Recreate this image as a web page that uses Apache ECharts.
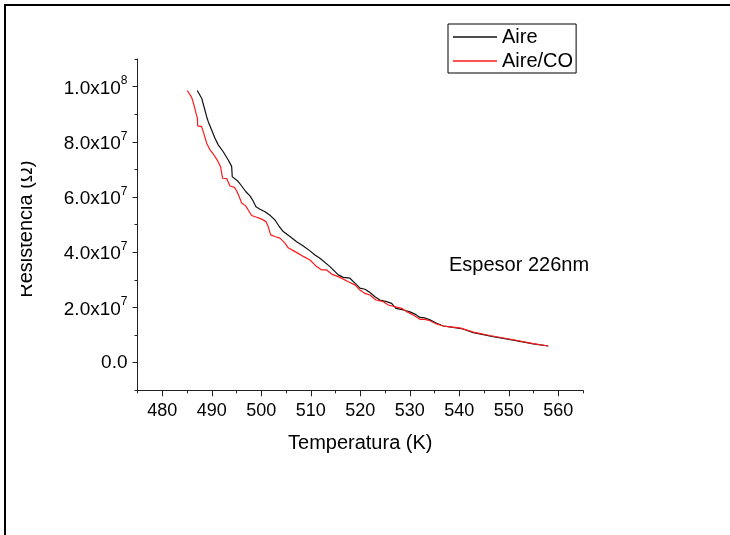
<!DOCTYPE html>
<html>
<head>
<meta charset="utf-8">
<script src="https://cdn.jsdelivr.net/npm/echarts@6/dist/echarts.min.js"></script>
<style>
html,body{margin:0;padding:0;background:#fff;}
#chart{width:730px;height:535px;}
</style>
</head>
<body>
<div id="chart"></div>
<script>
// ---- data ----
const seriesNames = ['Aire', 'Aire/CO'];
const aireT = [487.07, 487.96, 488.42, 488.97, 489.29, 489.98, 490.65, 491.31, 492.32, 493.33, 494.02, 494.14, 495.35, 496.04, 496.85, 497.72, 498.26, 498.93, 499.74, 500.75, 501.90, 502.77, 503.58, 504.44, 505.80, 507.15, 508.48, 509.84, 510.85, 511.86, 513.88, 515.56, 516.57, 517.92, 518.93, 519.94, 520.95, 521.96, 522.97, 523.98, 525.33, 526.34, 527.21, 528.69, 530.04, 531.05, 532.06, 533.07, 534.08, 535.43, 536.77, 538.12, 540.75, 542.83, 546.87, 550.91, 554.95, 557.98];
const aireR = [9.86e7, 9.58e7, 9.28e7, 8.91e7, 8.73e7, 8.43e7, 8.13e7, 7.89e7, 7.64e7, 7.34e7, 7.11e7, 6.74e7, 6.56e7, 6.40e7, 6.20e7, 6.04e7, 5.89e7, 5.65e7, 5.56e7, 5.47e7, 5.32e7, 5.17e7, 4.95e7, 4.75e7, 4.57e7, 4.38e7, 4.23e7, 4.05e7, 3.90e7, 3.78e7, 3.48e7, 3.18e7, 3.09e7, 3.06e7, 2.88e7, 2.70e7, 2.66e7, 2.54e7, 2.39e7, 2.27e7, 2.21e7, 2.15e7, 1.97e7, 1.91e7, 1.84e7, 1.76e7, 1.64e7, 1.62e7, 1.55e7, 1.43e7, 1.33e7, 1.30e7, 1.22e7, 1.09e7, 0.94e7, 0.82e7, 0.68e7, 0.605e7];
const coT = [485.05, 485.94, 486.40, 486.81, 487.11, 487.15, 487.96, 488.42, 488.97, 489.64, 490.30, 491.11, 491.76, 492.00, 492.20, 493.01, 493.68, 494.59, 495.09, 495.60, 496.04, 496.85, 497.37, 498.06, 499.07, 500.08, 500.95, 501.41, 501.90, 502.77, 503.78, 504.79, 505.45, 506.46, 507.47, 508.48, 509.84, 511.19, 512.20, 513.21, 514.22, 515.90, 517.58, 518.93, 519.94, 520.95, 521.96, 523.17, 524.65, 525.66, 527.35, 528.36, 529.37, 530.71, 532.06, 533.07, 534.08, 535.43, 536.77, 538.12, 540.14, 542.83, 546.20, 550.91, 554.95, 557.98];
const coR = [9.86e7, 9.61e7, 9.34e7, 9.04e7, 8.85e7, 8.58e7, 8.55e7, 8.29e7, 7.95e7, 7.71e7, 7.56e7, 7.34e7, 7.11e7, 7.07e7, 6.68e7, 6.67e7, 6.40e7, 6.35e7, 6.20e7, 5.99e7, 5.78e7, 5.68e7, 5.53e7, 5.33e7, 5.27e7, 5.20e7, 5.11e7, 4.93e7, 4.63e7, 4.57e7, 4.51e7, 4.33e7, 4.16e7, 4.06e7, 3.96e7, 3.85e7, 3.72e7, 3.48e7, 3.36e7, 3.36e7, 3.21e7, 3.09e7, 2.93e7, 2.82e7, 2.63e7, 2.51e7, 2.45e7, 2.27e7, 2.21e7, 2.09e7, 2.01e7, 1.97e7, 1.85e7, 1.73e7, 1.57e7, 1.57e7, 1.52e7, 1.40e7, 1.33e7, 1.30e7, 1.26e7, 1.11e7, 0.985e7, 0.83e7, 0.69e7, 0.605e7];
const xMajorTicks = [480, 490, 500, 510, 520, 530, 540, 550, 560];
const yMajorTicks = [0, 2e7, 4e7, 6e7, 8e7, 1e8];
const xTitle = 'Temperatura (K)';
const yTitle = 'Resistencia (Ω)';
const annotation = 'Espesor 226nm';
// ---------------

const FONT = '"Liberation Sans", Arial, sans-serif';
const zip = (a, b) => a.map((v, i) => [v, b[i]]);

function yLabel(v) {
  const k = Math.round(v / 1e7);
  if (k < 0 || k > 10 || k % 2 !== 0) return '';
  if (k === 0) return '{a|0.0}';
  const e = Math.floor(Math.log10(v) + 1e-9);
  const m = v / Math.pow(10, e);
  return '{a|' + m.toFixed(1) + 'x10}{s|' + e + '}';
}

const chart = echarts.init(document.getElementById('chart'), null, {renderer: 'canvas'});
const axisLineStyle = {color: '#222', width: 1};

chart.setOption({
  animation: false,
  backgroundColor: '#fff',
  grid: {left: 137.5, right: 147, top: 59, bottom: 144.7, containLabel: false},
  legend: {
    orient: 'vertical',
    left: 448, top: 24,
    padding: [3, 3, 2, 5],
    itemGap: 4,
    itemWidth: 44, itemHeight: 1.3,
    icon: 'rect',
    borderColor: '#000', borderWidth: 1, borderRadius: 0,
    textStyle: {fontFamily: FONT, fontSize: 20, color: '#000'},
    data: seriesNames
  },
  xAxis: [{
    type: 'value', min: 475, max: 565, interval: 5,
    axisLine: {show: true, onZero: false, lineStyle: axisLineStyle},
    axisTick: {show: true, length: 3, lineStyle: axisLineStyle},
    splitLine: {show: false},
    axisLabel: {
      margin: 12, fontFamily: FONT, fontSize: 18, color: '#000',
      formatter: v => (Math.round(v) % 10 === 0 && v >= 480 && v <= 560) ? String(Math.round(v)) : ''
    },
    name: xTitle, nameLocation: 'middle', nameGap: 43,
    nameTextStyle: {fontFamily: FONT, fontSize: 20, color: '#000'}
  }, {
    type: 'value', min: 475, max: 565, position: 'bottom',
    axisLine: {show: false, onZero: false},
    axisTick: {show: true, length: 6, lineStyle: axisLineStyle, customValues: xMajorTicks},
    axisLabel: {show: false},
    splitLine: {show: false}
  }],
  yAxis: [{
    type: 'value', min: -1e7, max: 1.1e8, interval: 1e7,
    axisLine: {show: true, onZero: false, lineStyle: axisLineStyle},
    axisTick: {show: true, length: 3, lineStyle: axisLineStyle},
    splitLine: {show: false},
    axisLabel: {
      margin: 10, color: '#000', fontFamily: FONT, fontSize: 19,
      formatter: yLabel,
      rich: {
        a: {fontFamily: FONT, fontSize: 19, color: '#000', verticalAlign: 'bottom'},
        s: {fontFamily: FONT, fontSize: 12, color: '#000', verticalAlign: 'bottom', padding: [0, 0, 11, 0]}
      }
    },
    name: yTitle, nameLocation: 'middle', nameGap: 101,
    nameTextStyle: {fontFamily: FONT, fontSize: 20, color: '#000', padding: [0, 9, 0, 0]}
  }, {
    type: 'value', min: -1e7, max: 1.1e8, position: 'left',
    axisLine: {show: false, onZero: false},
    axisTick: {show: true, length: 5, lineStyle: axisLineStyle, customValues: yMajorTicks},
    axisLabel: {show: false},
    splitLine: {show: false}
  }],
  series: [{
    name: seriesNames[0], type: 'line', xAxisIndex: 0, yAxisIndex: 0,
    data: zip(aireT, aireR), symbol: 'none', showSymbol: false,
    lineStyle: {color: '#111', width: 1.2}, itemStyle: {color: '#111'}
  }, {
    name: seriesNames[1], type: 'line', xAxisIndex: 0, yAxisIndex: 0,
    data: zip(coT, coR), symbol: 'none', showSymbol: false,
    lineStyle: {color: '#ff1a1a', width: 1.2}, itemStyle: {color: '#ff1a1a'}
  }],
  graphic: [
    {type: 'rect', z: 100, shape: {x: 6.5, y: 150, width: 14.5, height: 170}, style: {fill: '#fff'}},
    {type: 'line', z: 110, shape: {x1: 4, y1: 5, x2: 730, y2: 5}, style: {stroke: '#000', lineWidth: 2}},
    {type: 'line', z: 110, shape: {x1: 5, y1: 4, x2: 5, y2: 535}, style: {stroke: '#000', lineWidth: 2}},
    {type: 'text', z: 110, x: 449, y: 265,
      style: {text: annotation, fontFamily: FONT, fontSize: 20, fill: '#000', textAlign: 'left', textVerticalAlign: 'middle'}}
  ]
});
</script>
</body>
</html>
